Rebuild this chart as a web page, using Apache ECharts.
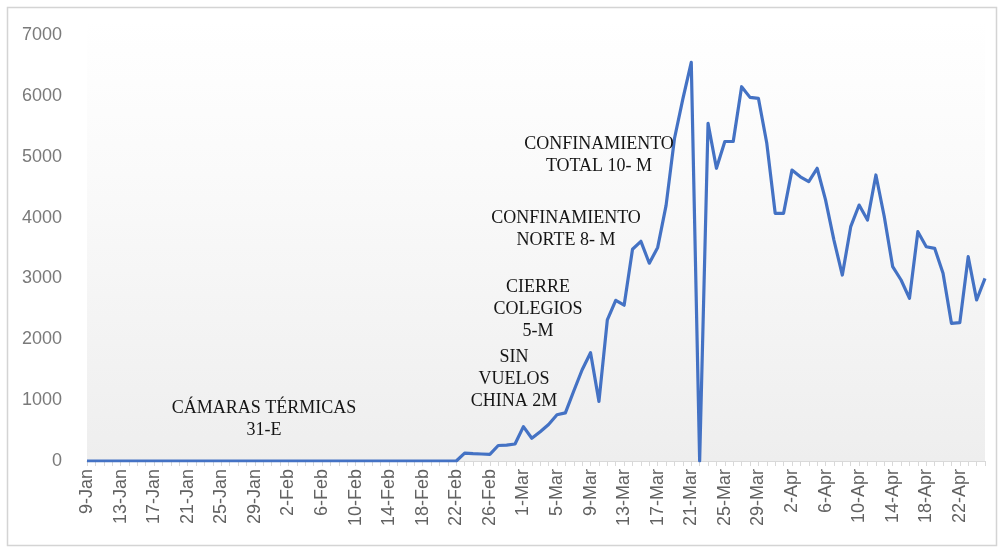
<!DOCTYPE html>
<html>
<head>
<meta charset="utf-8">
<script src="https://cdn.jsdelivr.net/npm/echarts@6/dist/echarts.min.js"></script>
<style>
  html, body { margin: 0; padding: 0; background: #ffffff; }
  #chart { width: 999px; height: 552px; }
</style>
</head>
<body>
<div id="chart"></div>
<script>
// Daily dates, 9 January to 25 April (2020, leap year)
const categories = [
  '9-Jan','10-Jan','11-Jan','12-Jan','13-Jan','14-Jan','15-Jan','16-Jan','17-Jan','18-Jan',
  '19-Jan','20-Jan','21-Jan','22-Jan','23-Jan','24-Jan','25-Jan','26-Jan','27-Jan','28-Jan',
  '29-Jan','30-Jan','31-Jan',
  '1-Feb','2-Feb','3-Feb','4-Feb','5-Feb','6-Feb','7-Feb','8-Feb','9-Feb','10-Feb',
  '11-Feb','12-Feb','13-Feb','14-Feb','15-Feb','16-Feb','17-Feb','18-Feb','19-Feb','20-Feb',
  '21-Feb','22-Feb','23-Feb','24-Feb','25-Feb','26-Feb','27-Feb','28-Feb','29-Feb',
  '1-Mar','2-Mar','3-Mar','4-Mar','5-Mar','6-Mar','7-Mar','8-Mar','9-Mar','10-Mar',
  '11-Mar','12-Mar','13-Mar','14-Mar','15-Mar','16-Mar','17-Mar','18-Mar','19-Mar','20-Mar',
  '21-Mar','22-Mar','23-Mar','24-Mar','25-Mar','26-Mar','27-Mar','28-Mar','29-Mar','30-Mar','31-Mar',
  '1-Apr','2-Apr','3-Apr','4-Apr','5-Apr','6-Apr','7-Apr','8-Apr','9-Apr','10-Apr',
  '11-Apr','12-Apr','13-Apr','14-Apr','15-Apr','16-Apr','17-Apr','18-Apr','19-Apr','20-Apr',
  '21-Apr','22-Apr','23-Apr','24-Apr','25-Apr'
];

// Daily values
const values = [
  0, 0, 0, 0, 0, 0, 0, 0, 0, 0,
  0, 0, 0, 0, 0, 0, 0, 0, 0, 0,
  0, 0, 0,
  0, 0, 0, 0, 0, 0, 0, 0, 0, 0,
  0, 0, 0, 0, 0, 0, 0, 0, 0, 0,
  0, 0, 130, 120, 115, 110, 255, 260, 280,
  565, 373, 480, 600, 760, 790, 1150, 1500, 1780, 980,
  2320, 2640, 2560, 3480, 3610, 3250, 3510, 4200, 5300, 5950,
  6550, 0, 5550, 4810, 5250, 5250, 6150, 5975, 5960, 5220, 4070,
  4070, 4780, 4670, 4590, 4810, 4290, 3630, 3056, 3850, 4206,
  3960, 4700, 4014, 3193, 2974, 2673, 3768, 3521, 3495, 3084,
  2262, 2273, 3357, 2646, 3002
];

// Y axis range
const yMin = 0;
const yMax = 7000;
const yStep = 1000;

// Event notes written on the chart
const notes = [
  { lines: ['CONFINAMIENTO', 'TOTAL 10- M'], x: 599, y: 133 },
  { lines: ['CONFINAMIENTO', 'NORTE 8- M'], x: 566, y: 207 },
  { lines: ['CIERRE', 'COLEGIOS', '5-M'], x: 538, y: 276 },
  { lines: ['SIN', 'VUELOS', 'CHINA 2M'], x: 514, y: 346 },
  { lines: ['CÁMARAS TÉRMICAS', '31-E'], x: 264, y: 397 }
];

const chart = echarts.init(document.getElementById('chart'), null, { renderer: 'canvas' });

const gridLeft = 87, gridRight = 14, gridTop = 35, gridBottom = 91;

const graphics = [
  // outer frame
  {
    type: 'rect', z: -20, silent: true,
    shape: { x: 7.5, y: 7.5, width: 989, height: 538 },
    style: { fill: '#ffffff', stroke: '#d4d4d4', lineWidth: 1.5 }
  },
  // plot background
  {
    type: 'rect', z: -10, silent: true,
    shape: { x: gridLeft, y: 20, width: 999 - gridLeft - gridRight, height: 552 - gridBottom - 20 },
    style: {
      fill: new echarts.graphic.LinearGradient(0, 0, 0, 1, [
        { offset: 0, color: '#ffffff' },
        { offset: 0.35, color: '#fafafa' },
        { offset: 1, color: '#eeeeee' }
      ])
    }
  }
];

notes.forEach(n => {
  graphics.push({
    type: 'text', z: 10, silent: true,
    x: n.x, y: n.y,
    style: {
      text: n.lines.join('\n'),
      font: '18px "Liberation Serif", "DejaVu Serif", serif',
      fill: '#151515',
      align: 'center',
      verticalAlign: 'top',
      lineHeight: 22
    }
  });
});

chart.setOption({
  animation: false,
  backgroundColor: '#ffffff',
  graphic: graphics,
  grid: { left: gridLeft, right: gridRight, top: gridTop, bottom: gridBottom, containLabel: false },
  xAxis: {
    type: 'category',
    data: categories,
    boundaryGap: false,
    axisLine: { show: true, lineStyle: { color: '#d9d9d9', width: 1 } },
    axisTick: { show: true, interval: 0, length: 5, lineStyle: { color: '#d9d9d9' } },
    axisLabel: {
      interval: 3,
      rotate: 90,
      margin: 8,
      color: '#626262',
      fontSize: 18,
      fontFamily: '"Liberation Sans", Arial, sans-serif'
    },
    splitLine: { show: false }
  },
  yAxis: {
    type: 'value',
    min: yMin,
    max: yMax,
    interval: yStep,
    axisLine: { show: false },
    axisTick: { show: false },
    splitLine: { show: false },
    axisLabel: {
      margin: 25,
      color: '#7a7a7a',
      fontSize: 18,
      fontFamily: '"Liberation Sans", Arial, sans-serif',
      formatter: v => String(v)
    }
  },
  series: [{
    type: 'line',
    data: values,
    showSymbol: false,
    symbol: 'none',
    smooth: false,
    lineStyle: { color: '#4472C4', width: 3.2, join: 'round' },
    itemStyle: { color: '#4472C4' }
  }]
});
</script>
</body>
</html>
